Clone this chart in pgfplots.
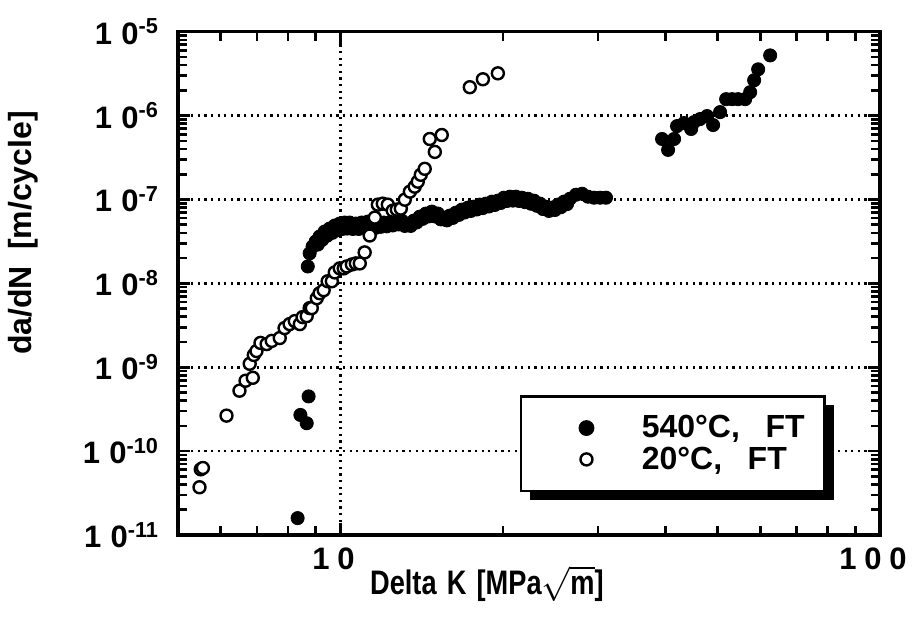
\documentclass[border=0pt]{standalone}
\usepackage{fontspec}
\setmainfont{Liberation Sans}
\newfontfamily\narrowfont{Liberation Sans}[FakeStretch=0.8]
\usepackage{pgfplots}
\pgfplotsset{compat=1.18}
\usetikzlibrary{shadows}
\newcommand{\tl}[1]{\textbf{1\hspace{0.3em}0}\textsuperscript{\textbf{#1}}}
\begin{document}
\begin{tikzpicture}
\begin{axis}[
  scale only axis, width=351bp, height=251.65bp,
  xmode=log, ymode=log,
  xmin=5, xmax=100, ymin=1e-11, ymax=1e-5,
  xtick={10,100},
  xticklabels={\textbf{1\hspace{0.25em}0},\textbf{1\hspace{0.25em}0\hspace{0.25em}0}},
  minor xtick={6,7,8,9,20,30,40,50,60,70,80,90},
  ytick={1e-11,1e-10,1e-9,1e-8,1e-7,1e-6,1e-5},
  yticklabels={\tl{-11},\tl{-10},\tl{-9},\tl{-8},\tl{-7},\tl{-6},\tl{-5}},
  minor ytick={2e-11,3e-11,4e-11,5e-11,6e-11,7e-11,8e-11,9e-11,
    2e-10,3e-10,4e-10,5e-10,6e-10,7e-10,8e-10,9e-10,
    2e-9,3e-9,4e-9,5e-9,6e-9,7e-9,8e-9,9e-9,
    2e-8,3e-8,4e-8,5e-8,6e-8,7e-8,8e-8,9e-8,
    2e-7,3e-7,4e-7,5e-7,6e-7,7e-7,8e-7,9e-7,
    2e-6,3e-6,4e-6,5e-6,6e-6,7e-6,8e-6,9e-6},
  tick align=inside,
  xtick pos=both, ytick pos=both,
  major tick length=6bp, minor tick length=4.5bp,
  every tick/.style={line width=1.3bp, black},
  every minor tick/.style={line width=1.3bp, black},
  axis line style={line width=1.6bp},
  xmajorgrids, ymajorgrids,
  major grid style={black, line width=1.3bp, dash pattern=on 1.1bp off 2.2bp},
  ticklabel style={font=\fontsize{15.5bp}{18bp}\selectfont\bfseries},
  yticklabel style={xshift=-6bp},
  xticklabel style={yshift=-3bp, xshift=-3.5bp},
  xlabel={\narrowfont Delta\hspace{0.3em}K\hspace{0.3em}[MPa$\sqrt{\textbf{m}}$]},
  ylabel={da/dN\hspace{0.5em}[m/cycle]},
  xlabel style={font=\fontsize{17bp}{19bp}\selectfont\bfseries, at={(axis description cs:0.44,-0.097)}, anchor=center},
  ylabel style={font=\fontsize{16bp}{19bp}\selectfont\bfseries, at={(axis description cs:-0.221,0.6)}, anchor=center},
  legend image code/.code={\path (-23bp,0bp) (26bp,0bp); \draw[#1] plot coordinates {(0bp,0bp)};},
  legend style={at={(0.487,0.278)}, anchor=north west, draw=black, line width=1.3bp, fill=white,
    drop shadow={shadow xshift=4.5bp, shadow yshift=-4.5bp, fill=black, opacity=1},
    font=\fontsize{16bp}{19bp}\selectfont\bfseries,
    inner xsep=9bp, inner ysep=8.5bp, row sep=1bp,
    nodes={inner sep=1bp}},
  legend cell align=left,
]
\addplot[only marks, mark=*, mark size=3.3bp, mark options={fill=black, draw=black}] coordinates {
(8.70,1.59e-8) (8.77,2.28e-8) (8.88,2.75e-8) (9.00,3.16e-8) (9.15,3.62e-8) (9.35,4.15e-8)
(9.55,4.50e-8) (9.76,4.89e-8) (9.97,5.16e-8) (10.18,5.31e-8) (10.40,5.31e-8) (10.68,5.16e-8)
(10.95,5.31e-8) (11.24,5.45e-8) (11.48,5.02e-8) (11.73,5.16e-8) (12.03,5.31e-8) (12.34,5.31e-8)
(12.66,5.60e-8) (12.99,5.60e-8) (13.33,5.16e-8) (13.68,5.60e-8) (14.03,6.25e-8) (14.40,6.79e-8)
(14.77,7.17e-8) (15.16,6.79e-8) (15.55,6.08e-8) (15.95,6.43e-8) (16.37,6.97e-8) (16.79,7.57e-8)
(17.23,7.99e-8) (17.67,8.21e-8) (18.13,8.68e-8) (18.60,8.92e-8) (19.09,9.42e-8) (19.58,9.68e-8)
(20.09,1.05e-7) (20.61,1.08e-7) (21.15,1.08e-7) (21.70,1.05e-7) (22.26,1.02e-7) (22.84,9.68e-8)
(23.43,8.92e-8) (24.04,8.21e-8) (24.66,7.99e-8) (25.30,8.68e-8) (25.96,9.42e-8) (26.63,1.02e-7)
(27.33,1.14e-7) (28.04,1.17e-7) (28.76,1.08e-7) (29.51,1.05e-7) (30.28,1.05e-7) (31.06,1.05e-7)
(9.08,2.9e-8) (9.25,3.3e-8) (9.45,3.7e-8) (9.66,4.0e-8) (9.87,4.3e-8) (10.08,4.45e-8)
(10.29,4.5e-8) (10.54,4.45e-8) (10.81,4.45e-8) (11.10,4.84e-8) (11.36,4.7e-8) (11.60,4.58e-8)
(11.88,4.72e-8) (12.18,4.78e-8) (12.50,4.9e-8) (12.82,5.04e-8) (13.16,4.84e-8) (13.50,4.84e-8)
(13.85,5.33e-8) (14.20,5.87e-8) (14.58,6.28e-8) (14.96,6.28e-8) (15.35,5.79e-8) (15.75,5.63e-8)
(16.16,6.03e-8) (16.58,6.55e-8) (17.00,7.0e-8) (17.45,7.3e-8) (17.90,7.6e-8) (18.36,7.9e-8)
(18.85,8.25e-8) (19.33,8.6e-8) (19.83,9.1e-8) (20.35,9.6e-8) (20.88,9.7e-8) (21.42,9.6e-8)
(21.98,9.3e-8) (22.55,8.9e-8) (23.13,8.4e-8) (23.73,7.7e-8) (24.35,7.3e-8) (24.98,7.5e-8)
(25.63,8.1e-8) (26.30,8.8e-8)
(8.33,1.59e-11) (8.73,4.49e-10) (8.43,2.70e-10) (8.66,2.15e-10)
(39.46,5.26e-7) (40.48,3.90e-7) (41.53,5.26e-7) (42.06,7.50e-7) (43.34,8.15e-7) (44.66,6.92e-7)
(45.23,8.37e-7) (46.40,9.09e-7) (47.81,9.87e-7) (49.05,7.72e-7) (50.54,1.10e-6) (51.86,1.57e-6)
(53.21,1.57e-6) (54.59,1.57e-6) (56.25,1.57e-6) (57.46,1.90e-6) (58.45,2.64e-6) (59.46,3.56e-6)
(62.58,5.22e-6)
};
\addlegendentry{540°C,\hspace{0.8em}FT}
\addplot[only marks, mark=*, mark size=3bp, mark options={fill=white, draw=black, line width=1.2bp}] coordinates {
(5.48,3.71e-11) (5.51,6.07e-11) (5.56,6.30e-11) (6.15,2.65e-10) (6.50,5.25e-10) (6.67,6.90e-10)
(6.88,7.49e-10) (6.79,1.10e-9) (6.91,1.40e-9) (6.99,1.56e-9) (7.11,1.95e-9) (7.30,1.89e-9)
(7.46,2.06e-9) (7.72,2.23e-9) (7.88,2.93e-9) (8.05,3.27e-9) (8.23,3.55e-9) (8.41,3.27e-9)
(8.51,3.96e-9) (8.66,4.07e-9) (8.77,5.07e-9) (8.85,5.07e-9) (9.04,6.66e-9) (9.15,7.63e-9)
(9.31,8.28e-9) (9.47,1.06e-8) (9.64,1.06e-8) (9.76,1.35e-8) (9.97,1.51e-8) (10.14,1.51e-8)
(10.27,1.59e-8) (10.50,1.68e-8) (10.68,1.73e-8) (10.86,1.73e-8) (11.09,2.34e-8) (11.33,3.72e-8)
(11.58,6.08e-8) (11.73,8.68e-8) (11.98,8.92e-8) (12.24,8.68e-8) (12.50,7.36e-8) (12.72,7.57e-8)
(12.94,7.78e-8) (13.16,9.94e-8) (13.45,1.24e-7) (13.73,1.42e-7) (13.91,1.63e-7) (14.09,1.97e-7)
(14.33,2.32e-7) (14.64,5.26e-7) (14.96,3.69e-7) (15.41,5.87e-7) (17.37,2.18e-6) (18.37,2.71e-6)
(19.58,3.19e-6)
};
\addlegendentry{20°C,\hspace{0.8em}FT}
\end{axis}
\pgfresetboundingbox
\useasboundingbox ([xshift=-89bp,yshift=-44.5bp]current axis.south west) rectangle ([xshift=18.5bp,yshift=15.85bp]current axis.north east);
\end{tikzpicture}
\end{document}
